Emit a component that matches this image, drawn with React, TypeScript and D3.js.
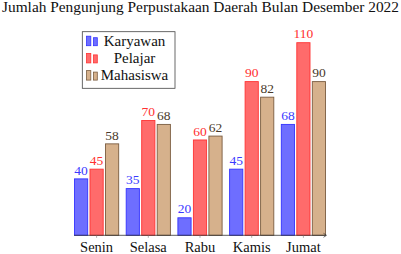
import React from "react";
import * as d3 from "d3";

const title = "Jumlah Pengunjung Perpustakaan Daerah Bulan Desember 2022";
const categories = ["Senin", "Selasa", "Rabu", "Kamis", "Jumat"];
const seriesNames = ["Karyawan", "Pelajar", "Mahasiswa"];
const karyawan = [40, 35, 20, 45, 68];
const pelajar = [45, 70, 60, 90, 110];
const mahasiswa = [58, 68, 62, 82, 90];
const seriesValues = [karyawan, pelajar, mahasiswa];

const fills = ["#6e6eff", "#ff6b6b", "#d6b18c"];
const strokes = ["#3333ff", "#ff3333", "#7a5c40"];
const textColors = ["#3b3bff", "#ff3030", "#4a3a2a"];

const W = 401;
const H = 254;
const FONT = "Liberation Serif";

export default function App() {
  const axisLeft = 74;
  const axisRight = 326;
  const baseline = 235.3;
  const x = d3.scalePoint<string>().domain(categories).range([axisLeft, axisRight]).padding(0.437);
  const y = d3.scaleLinear().domain([11, 110]).range([baseline, 42.7]);
  const barW = 13.2;
  const offset = 15.5;

  return (
    <svg width={W} height={H} style={{ position: "absolute", left: 0, top: 0, background: "#fff" }}>
      <text x={200.5} y={12} fontSize={14} fontFamily={FONT} textAnchor="middle" textLength={397} lengthAdjust="spacingAndGlyphs" fill="#111">
        {title}
      </text>
      {seriesValues.map((vals, s) =>
        vals.map((v, i) => {
          const cx = (x(categories[i]) as number) + (s - 1) * offset;
          const top = y(v);
          return (
            <g key={`${s}-${i}`}>
              <rect x={cx - barW / 2} y={top} width={barW} height={baseline - top} fill={fills[s]} stroke={strokes[s]} strokeWidth={0.9} />
              <text x={cx} y={top - 4.3} fontSize={13.5} fontFamily={FONT} textAnchor="middle" fill={textColors[s]}>
                {v}
              </text>
            </g>
          );
        })
      )}
      <line x1={axisLeft} x2={axisRight} y1={baseline} y2={baseline} stroke="#333" strokeWidth={0.8} />
      <path d={`M${axisRight - 2.5},${baseline - 2} L${axisRight + 0.5},${baseline} L${axisRight - 2.5},${baseline + 2}`} fill="none" stroke="#333" strokeWidth={0.7} />
      {categories.map((c) => (
        <g key={c}>
          <line x1={x(c)} x2={x(c)} y1={baseline} y2={baseline + 2.5} stroke="#777" strokeWidth={0.6} />
          <text x={x(c)} y={252} fontSize={14.5} fontFamily={FONT} textAnchor="middle" fill="#111">
            {c}
          </text>
        </g>
      ))}
      <rect x={82.3} y={31.7} width={92.7} height={56.6} fill="#fff" stroke="#444" strokeWidth={0.8} />
      {seriesNames.map((n, s) => {
        const rowY = 45.7 + s * 17.2;
        return (
          <g key={n}>
            <rect x={86.5} y={rowY - 9.5} width={4.3} height={9.5} fill={fills[s]} stroke={strokes[s]} strokeWidth={0.8} />
            <rect x={93.5} y={rowY - 8} width={3.8} height={8} fill={fills[s]} stroke={strokes[s]} strokeWidth={0.8} />
            <text x={134.5} y={rowY} fontSize={15} fontFamily={FONT} textAnchor="middle" fill="#111">
              {n}
            </text>
          </g>
        );
      })}
    </svg>
  );
}
